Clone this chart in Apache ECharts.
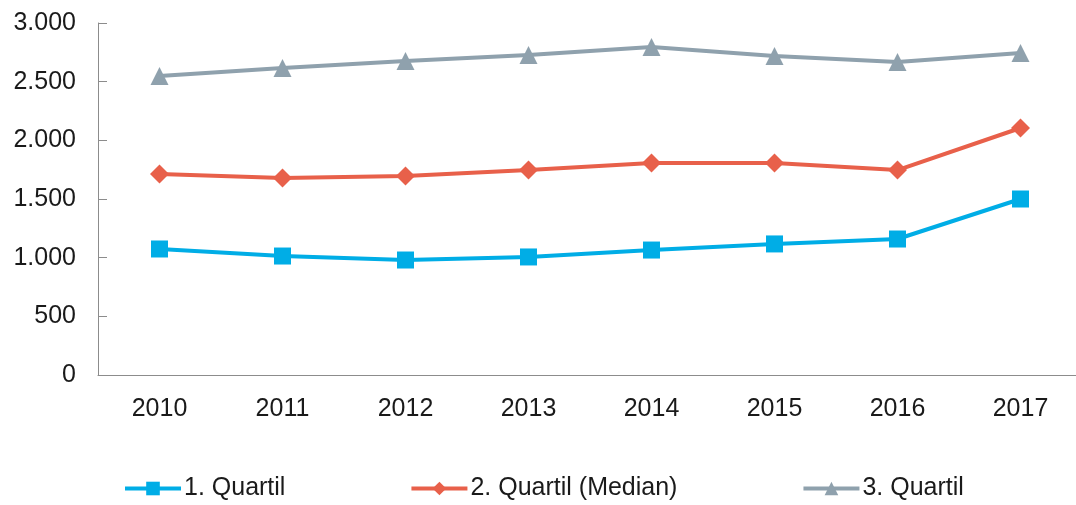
<!DOCTYPE html>
<html><head><meta charset="utf-8">
<script src="https://cdn.jsdelivr.net/npm/echarts@6/dist/echarts.min.js"></script>
<style>html,body{margin:0;padding:0;background:#fff;overflow:hidden}#c{width:1090px;height:505px}</style>
</head><body><div id="c"></div>
<script>
const categories = ['2010','2011','2012','2013','2014','2015','2016','2017'];
const q1 = [1074, 1014, 980, 1006, 1065, 1117, 1159, 1500];
const q2 = [1713, 1679, 1696, 1747, 1807, 1807, 1747, 2105];
const q3 = [2548, 2617, 2676, 2727, 2796, 2719, 2668, 2744];
const seriesNames = ['1. Quartil', '2. Quartil (Median)', '3. Quartil'];

const fmt = v => String(v).replace(/\B(?=(\d{3})+(?!\d))/g, '.');
const font = 'Liberation Sans, Arial, sans-serif';
const chart = echarts.init(document.getElementById('c'));
chart.setOption({
  animation: false,
  grid: {left: 98, top: 23, width: 984, height: 352, containLabel: false},
  legend: {
    top: 471, left: 118, itemGap: 124, itemWidth: 56, itemHeight: 17,
    lineStyle: {width: 4},
    textStyle: {fontFamily: font, fontSize: 25, color: '#1a1a1a', padding: [0,0,0,-2]},
    data: seriesNames
  },
  xAxis: {
    type: 'category', data: categories, boundaryGap: true,
    axisLine: {lineStyle: {color: '#8c8c8c', width: 1}},
    axisTick: {inside: true, length: 9, lineStyle: {color: '#8c8c8c'}},
    axisLabel: {fontFamily: font, fontSize: 25, color: '#1a1a1a', margin: 22}
  },
  yAxis: {
    type: 'value', min: 0, max: 3000, interval: 500,
    splitLine: {show: false},
    axisLine: {show: true, lineStyle: {color: '#8c8c8c', width: 1}},
    axisTick: {show: true, inside: true, length: 9, lineStyle: {color: '#8c8c8c'}},
    axisLabel: {fontFamily: font, fontSize: 25, color: '#1a1a1a', margin: 22, formatter: fmt}
  },
  series: [
    {name: seriesNames[0], type: 'line', data: q1, symbol: 'rect', symbolSize: 17,
     lineStyle: {width: 4, color: '#00ADE6'}, itemStyle: {color: '#00ADE6'}},
    {name: seriesNames[1], type: 'line', data: q2, symbol: 'diamond', symbolSize: 19,
     lineStyle: {width: 4, color: '#E8604A'}, itemStyle: {color: '#E8604A'}},
    {name: seriesNames[2], type: 'line', data: q3, symbol: 'triangle', symbolSize: 18,
     lineStyle: {width: 4, color: '#8FA1AD'}, itemStyle: {color: '#8FA1AD'}}
  ]
});
</script></body></html>
